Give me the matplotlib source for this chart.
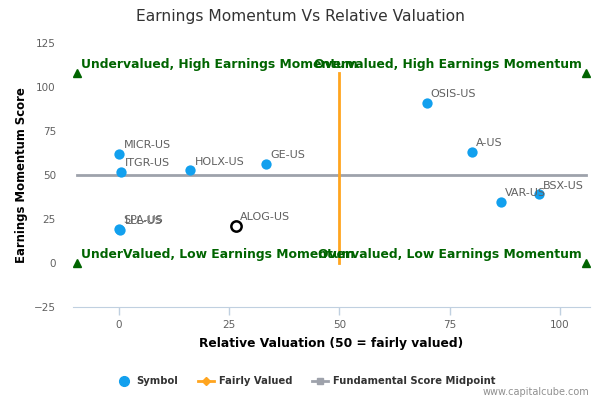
import matplotlib
matplotlib.use("Agg")
import matplotlib.pyplot as plt
from matplotlib.lines import Line2D

# Data
symbols = ['MICR-US', 'ITGR-US', 'HOLX-US', 'GE-US', 'SPA-US', 'LLL-US',
           'OSIS-US', 'A-US', 'VAR-US', 'BSX-US']
valuation = [0.1, 0.5, 16.2, 33.3, 0.0, 0.3, 69.8, 80.0, 86.6, 95.3]
momentum = [62.1, 51.9, 52.8, 56.6, 19.5, 19.0, 91.1, 63.2, 34.8, 39.2]

focus_symbol = 'ALOG-US'
focus_valuation = 26.6
focus_momentum = 21.2

fair_value = 50
midpoint = 50
corner_x = [-9.6, 106]
corner_y = [0, 108]
quadrant_labels = ['UnderValued, Low Earnings Momentum',
                   'Overvalued, Low Earnings Momentum',
                   'Undervalued, High Earnings Momentum',
                   'Overvalued, High Earnings Momentum']

x_ticks = [0, 25, 50, 75, 100]
y_ticks = [-25, 0, 25, 50, 75, 100, 125]

BLUE = '#12a0ee'
ORANGE = '#ffa51f'
GREY = '#9ea2ab'
GREEN = '#006400'
AXIS = '#c0d0e0'

fig = plt.figure(figsize=(6, 4), dpi=100)
ax = fig.add_axes([0.121, 0.232, 0.862, 0.66])

# reference lines
ax.plot(corner_x, [midpoint, midpoint], color=GREY, lw=2, zorder=1)
ax.plot([fair_value, fair_value], corner_y, color=ORANGE, lw=2, zorder=1)

# corner markers and quadrant labels (they overlap in the middle, as in the original)
k = 0
for yy in corner_y:
    for xx in corner_x:
        ax.plot(xx, yy, marker='^', color=GREEN, ms=6, ls='none', zorder=3)
        if xx == corner_x[0]:
            ax.annotate(quadrant_labels[k], (xx, yy), xytext=(3, 4), textcoords='offset points',
                        ha='left', va='baseline', color=GREEN, fontsize=8.9, fontweight='bold')
        else:
            ax.annotate(quadrant_labels[k], (xx, yy), xytext=(-3.5, 4), textcoords='offset points',
                        ha='right', va='baseline', color=GREEN, fontsize=8.9, fontweight='bold')
        k += 1

# symbols
ax.scatter(valuation, momentum, s=55, color=BLUE, zorder=4, linewidths=0)
for name, xv, yv in zip(symbols, valuation, momentum):
    ax.annotate(name, (xv, yv), xytext=(3, 4), textcoords='offset points',
                ha='left', va='baseline', fontsize=8, color='#606060', zorder=5)

ax.scatter([focus_valuation], [focus_momentum], s=55, facecolor='white',
           edgecolor='black', linewidths=1.8, zorder=4)
ax.annotate(focus_symbol, (focus_valuation, focus_momentum), xytext=(3, 4),
            textcoords='offset points', ha='left', va='baseline', fontsize=8, color='#606060')

ax.set_xlim(-10.5, 106.8)
ax.set_ylim(-25, 125)
ax.set_xticks(x_ticks)
ax.set_yticks(y_ticks)

for s in ['top', 'right', 'left']:
    ax.spines[s].set_visible(False)
ax.spines['bottom'].set_color(AXIS)
ax.tick_params(axis='x', colors=AXIS, length=6, width=1, pad=3.4, labelsize=7.5, labelcolor='#606060')
ax.tick_params(axis='y', length=0, pad=12, labelsize=7.5, labelcolor='#606060')

ax.set_xlabel('Relative Valuation (50 = fairly valued)', fontsize=8.8, fontweight='bold',
              color='black', labelpad=5)
ax.set_ylabel('Earnings Momentum Score', fontsize=8.4, fontweight='bold', color='black', labelpad=4.5)

fig.text(0.5, 0.96, 'Earnings Momentum Vs Relative Valuation', ha='center', va='center',
         fontsize=11.2, color='#333333')

handles = [
    Line2D([], [], marker='o', color=BLUE, ls='none', ms=7),
    Line2D([], [], marker='D', color=ORANGE, lw=2, ms=4),
    Line2D([], [], marker='s', color=GREY, lw=2, ms=5),
]
fig.legend(handles, ['Symbol', 'Fairly Valued', 'Fundamental Score Midpoint'],
           loc='center', bbox_to_anchor=(0.509, 0.047), ncol=3, frameon=False,
           prop={'size': 7.2, 'weight': 'bold'}, labelcolor='#333333',
           handlelength=1.6, columnspacing=1.95, handletextpad=0.5)

fig.text(0.982, 0.02, 'www.capitalcube.com', ha='right', va='center', fontsize=7, color='#909090')

fig.savefig('out.png', dpi=100)
